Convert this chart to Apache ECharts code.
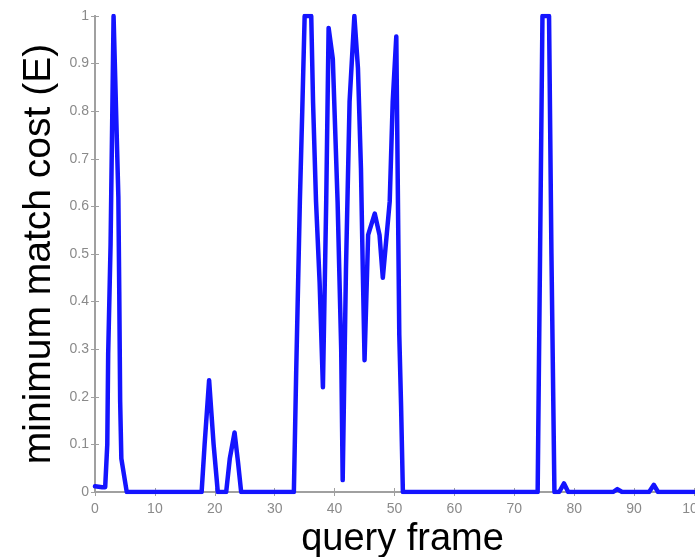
<!DOCTYPE html>
<html>
<head>
<meta charset="utf-8">
<script src="https://cdn.jsdelivr.net/npm/echarts@6/dist/echarts.min.js"></script>
<style>
  html, body { margin: 0; padding: 0; background: #fff; }
  #main { width: 695px; height: 557px; }
</style>
</head>
<body>
<div id="main"></div>
<script>
// query frame positions, with the cost at each
var frames = [0, 1.2, 1.7, 2.05, 2.2, 2.6, 3.1, 3.9, 4.05, 4.2, 4.4, 5.3,
  14, 17.8, 18.3, 19.05, 19.8, 20.5, 21.9, 22.5, 23.3, 23.9, 24.4,
  33.2, 33.6, 34.2, 34.6, 35.0, 36.1, 36.4, 36.9, 37.5, 38.05, 38.6, 39.0, 39.7, 40.5, 41.1, 41.35,
  41.9, 42.5, 43.3, 43.9, 44.4, 44.7, 45.0, 45.6, 46.7, 47.5, 48.05, 49.2, 49.7, 50.3, 50.8, 51.1, 51.4,
  73.9, 74.3, 74.7, 75.8, 76.2, 76.7, 77.5, 78.3, 79,
  86.5, 87.2, 88, 92.5, 93.3, 94, 100];
var cost = [0.012, 0.01, 0.01, 0.1, 0.29, 0.52, 1.0, 0.62, 0.42, 0.19, 0.07, 0,
  0, 0, 0.1, 0.235, 0.1, 0, 0, 0.07, 0.125, 0.06, 0,
  0, 0.26, 0.61, 0.8, 1.0, 1.0, 0.82, 0.61, 0.44, 0.22, 0.61, 0.975, 0.91, 0.61, 0.3, 0.025,
  0.47, 0.82, 1.0, 0.89, 0.68, 0.47, 0.277, 0.54, 0.585, 0.54, 0.45, 0.61, 0.82, 0.957, 0.33, 0.18, 0,
  0, 0.5, 1.0, 1.0, 0.5, 0, 0, 0.018, 0,
  0, 0.006, 0, 0, 0.015, 0, 0];
var xTicks = [0, 10, 20, 30, 40, 50, 60, 70, 80, 90, 100];
var yTicks = ['0', '0.1', '0.2', '0.3', '0.4', '0.5', '0.6', '0.7', '0.8', '0.9', '1'];

var chart = echarts.init(document.getElementById('main'));

var points = frames.map(function (f, i) { return [f, cost[i]]; });

var frameLine = { show: true, lineStyle: { color: '#a0a0a0', width: 2 } };
var tick = { show: true, inside: true, length: 4, lineStyle: { color: '#a0a0a0' } };
var tickFont = { color: '#8a8a8a', fontSize: 14, fontFamily: 'Liberation Sans' };

var option = {
  animation: false,
  grid: { left: 95, right: 1, top: 16, bottom: 65, outerBoundsMode: 'none', containLabel: false },
  xAxis: [{
    type: 'value', min: 0, max: 100, interval: 10,
    axisLine: frameLine, axisTick: tick, splitLine: { show: false },
    axisLabel: Object.assign({ margin: 10, formatter: function (v) { return xTicks.indexOf(v) >= 0 ? String(v) : ''; } }, tickFont),
    name: 'query frame', nameLocation: 'middle', nameGap: 26,
    nameTextStyle: { color: '#000', fontSize: 38, fontFamily: 'Liberation Sans', padding: [0, 0, 0, 16] }
  }, {
    type: 'value', min: 0, max: 100, interval: 10, position: 'top',
    axisLine: frameLine, axisTick: tick, axisLabel: { show: false }, splitLine: { show: false }
  }],
  yAxis: [{
    type: 'value', min: 0, max: 1, interval: 0.1,
    axisLine: frameLine, axisTick: tick, splitLine: { show: false },
    axisLabel: Object.assign({ margin: 6, formatter: function (v) { return yTicks[Math.round(v * 10)]; } }, tickFont),
    name: 'minimum match cost (E)', nameLocation: 'middle', nameGap: 34,
    nameTextStyle: { color: '#000', fontSize: 39, fontFamily: 'Liberation Sans' }
  }, {
    type: 'value', min: 0, max: 1, interval: 0.1, position: 'right',
    axisLine: frameLine, axisTick: tick, axisLabel: { show: false }, splitLine: { show: false }
  }],
  series: [{
    type: 'line',
    data: points,
    showSymbol: false,
    clip: true,
    lineStyle: { color: '#1414ff', width: 4.5, join: 'round', cap: 'round' }
  }]
};

chart.setOption(option);
</script>
</body>
</html>
